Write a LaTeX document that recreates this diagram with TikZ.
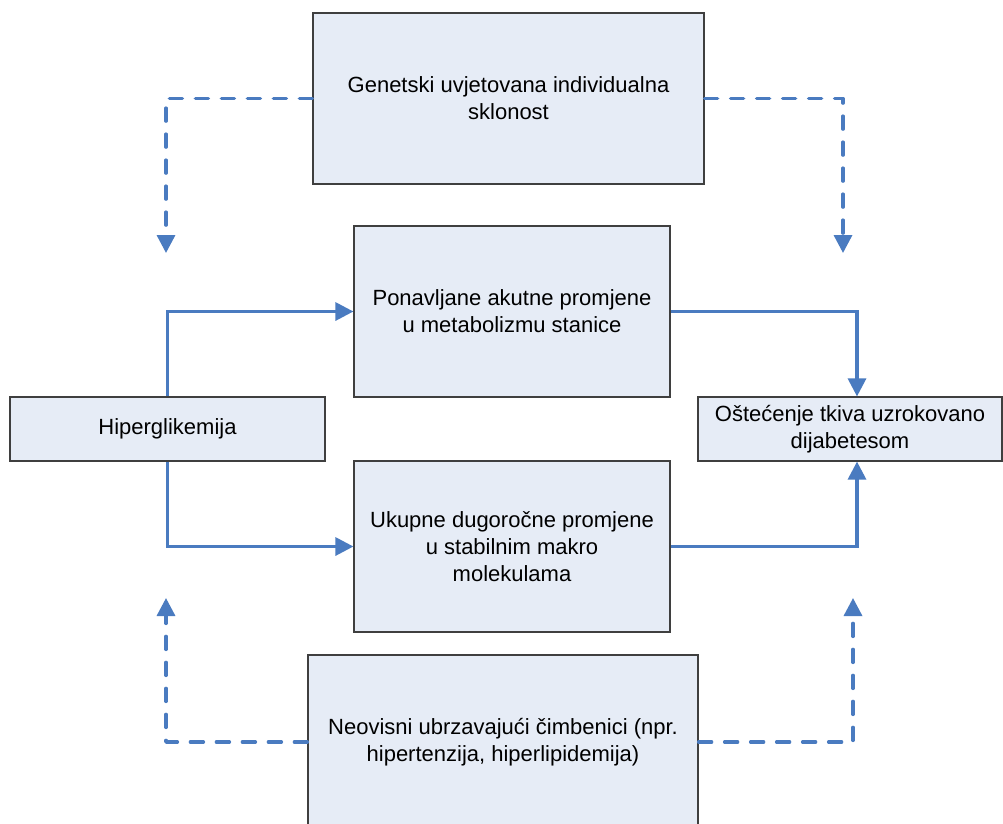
\documentclass[tikz,border=0pt]{standalone}
\usepackage{fontspec}
\setmainfont{Liberation Sans}
\usetikzlibrary{arrows.meta}
\definecolor{lineblue}{HTML}{4A7BC0}
\definecolor{boxfill}{HTML}{E6ECF6}
\definecolor{boxline}{HTML}{3F3F3F}
\tikzset{
  box/.style={draw=boxline, fill=boxfill, line width=1.2pt, inner sep=0pt, align=center,
    font=\fontsize{22}{27}\selectfont},
  solidcon/.style={draw=lineblue, line width=3.2pt, -{Triangle[length=18pt,width=18pt]}},
  dashcon/.style={draw=lineblue, line width=3.4pt, line cap=round, line join=round,
    dash pattern=on 13pt off 13pt, -{Triangle[length=18pt,width=18pt]}}
}
\begin{document}
\begin{tikzpicture}[x=1pt,y=-1pt]
\useasboundingbox (0,0) rectangle (1003,823);
\fill[white] (0,0) rectangle (1003,823);
% boxes
\node[box, minimum width=391pt, minimum height=171pt] (gen) at (508.5,98.5) {Genetski uvjetovana individualna\\sklonost};
\node[box, minimum width=316pt, minimum height=171pt] (pon) at (512,311.5) {Ponavljane akutne promjene\\u metabolizmu stanice};
\node[box, minimum width=315pt, minimum height=64pt] (hip) at (167.5,429) {Hiperglikemija};
\node[box, minimum width=304pt, minimum height=64pt] (ost) at (850,429) {Oštećenje tkiva uzrokovano\\dijabetesom};
\node[box, minimum width=316pt, minimum height=171pt] (uk) at (512,546.5) {Ukupne dugoročne promjene\\u stabilnim makro\\molekulama};
\node[box, minimum width=390pt, minimum height=174pt] (neo) at (503,742) {Neovisni ubrzavajući čimbenici (npr.\\hipertenzija, hiperlipidemija)};
% free ends of dashed connectors
\coordinate (tl) at (166,253);
\coordinate (tr) at (843,253);
\coordinate (bl) at (166,598);
\coordinate (br) at (853,598);
% solid connectors
\draw[solidcon] (hip.north) |- (pon.west);
\draw[solidcon] (hip.south) |- (uk.west);
\draw[solidcon] (pon.east) -| ([xshift=7pt]ost.north);
\draw[solidcon] (uk.east) -| ([xshift=7pt]ost.south);
% dashed connectors
\draw[dashcon] (gen.west) -| (tl);
\draw[dashcon] (gen.east) -| (tr);
\draw[dashcon] (neo.west) -| (bl);
\draw[dashcon] (neo.east) -| (br);
\end{tikzpicture}
\end{document}
